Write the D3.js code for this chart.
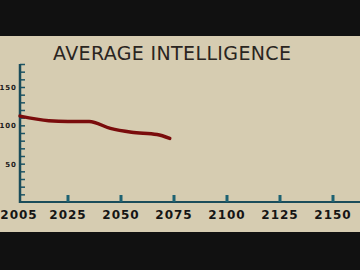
<!DOCTYPE html>
<html>
<head>
<meta charset="utf-8">
<script src="https://cdn.jsdelivr.net/npm/d3@7"></script>
<style>
  body { margin: 0; background: #111; }
  svg { display: block; }
</style>
</head>
<body>
<div id="chart"></div>
<script>
var years = [2005, 2017, 2025, 2035, 2045, 2055, 2067, 2073];
var iq = [112, 106, 105, 105, 96, 91, 88, 83];
var xTicks = [2005, 2025, 2050, 2075, 2100, 2125, 2150];
var yLabels = [50, 100, 150];

var width = 360, height = 270;

var svg = d3.select("#chart").append("svg")
  .attr("width", width)
  .attr("height", height);

svg.append("rect")
  .attr("width", width).attr("height", height)
  .attr("fill", "#111111");

// the beige panel
svg.append("rect")
  .attr("x", 0).attr("y", 36)
  .attr("width", width).attr("height", 196)
  .attr("fill", "#d6ccb1");

// 2005 sits on the axis, the rest step 25 years
var x = d3.scaleLinear()
  .domain([2005, 2025, 2150])
  .range([20, 68, 333]);

var y = d3.scaleLinear()
  .domain([0, 180])
  .range([202, 64]);

svg.append("text")
  .attr("x", 172).attr("y", 60)
  .attr("text-anchor", "middle")
  .attr("textLength", 238)
  .attr("lengthAdjust", "spacing")
  .attr("font-family", "DejaVu Sans")
  .attr("font-size", 19)
  .attr("fill", "#2a2521")
  .text("AVERAGE INTELLIGENCE");

// y axis with minor ticks every 10
var yAxis = d3.axisRight(y)
  .tickValues(d3.range(10, 181, 10))
  .tickSize(5)
  .tickFormat("");

var gy = svg.append("g")
  .attr("transform", "translate(20,0)")
  .call(yAxis);
gy.select(".domain").remove();
gy.selectAll("line").attr("stroke", "#1d5566").attr("stroke-width", 1.5);

svg.append("line")
  .attr("x1", 20).attr("x2", 20)
  .attr("y1", y(180)).attr("y2", y(0) + 1)
  .attr("stroke", "#1a4c5a").attr("stroke-width", 2.5);

svg.selectAll(".ylab")
  .data(yLabels)
  .enter().append("text")
  .attr("class", "ylab")
  .attr("x", 17)
  .attr("y", function (d) { return y(d) + 3; })
  .attr("text-anchor", "end")
  .attr("font-family", "DejaVu Sans")
  .attr("font-weight", "bold")
  .attr("font-size", 7)
  .attr("letter-spacing", 1)
  .attr("fill", "#1b1b1b")
  .text(function (d) { return d; });

// x axis
svg.append("line")
  .attr("x1", 19).attr("x2", width)
  .attr("y1", y(0)).attr("y2", y(0))
  .attr("stroke", "#1a4c5a").attr("stroke-width", 2);

svg.selectAll(".xtick")
  .data(xTicks.slice(1))
  .enter().append("rect")
  .attr("class", "xtick")
  .attr("x", function (d) { return x(d) - 1.5; })
  .attr("y", y(0) - 7)
  .attr("width", 3)
  .attr("height", 7)
  .attr("fill", "#1e6272");

svg.selectAll(".xlab")
  .data(xTicks)
  .enter().append("text")
  .attr("class", "xlab")
  .attr("x", function (d, i) { return i == 0 ? 19 : x(d); })
  .attr("y", 219)
  .attr("text-anchor", "middle")
  .attr("font-family", "DejaVu Sans")
  .attr("font-weight", "bold")
  .attr("font-size", 12)
  .attr("letter-spacing", 1)
  .attr("fill", "#151515")
  .text(function (d) { return d; });

// the line
var line = d3.line()
  .x(function (d, i) { return x(years[i]); })
  .y(function (d) { return y(d); })
  .curve(d3.curveMonotoneX);

svg.append("path")
  .datum(iq)
  .attr("d", line)
  .attr("fill", "none")
  .attr("stroke", "#7a0c0c")
  .attr("stroke-width", 3.5)
  .attr("stroke-linecap", "round");
</script>
</body>
</html>
